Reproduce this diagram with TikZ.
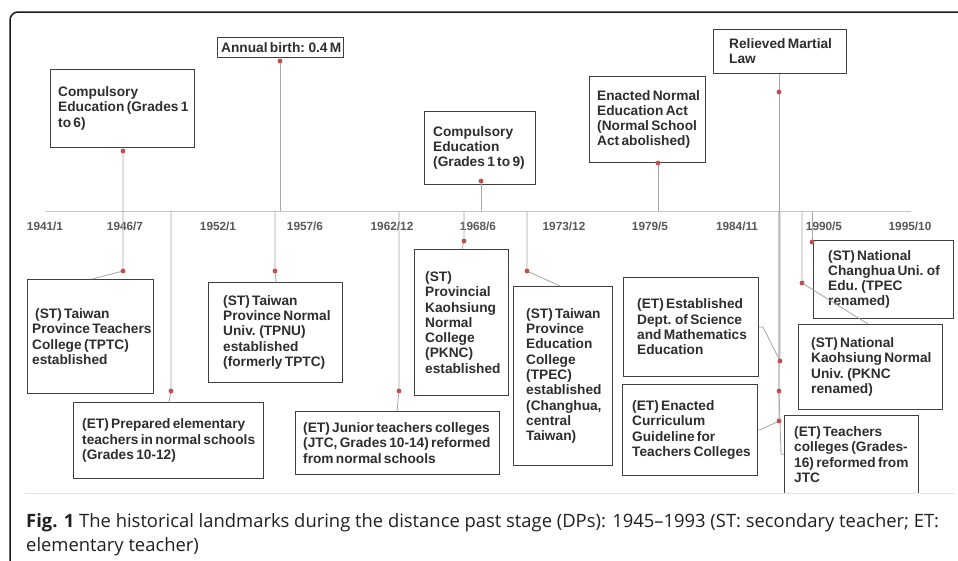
\documentclass[tikz,border=0pt]{standalone}
\usepackage{fontspec}
\setmainfont{Liberation Sans}
\newfontfamily\capfont{Open Sans}
\usetikzlibrary{calc}
\definecolor{boxline}{HTML}{404040}
\definecolor{txtc}{HTML}{2E2E2E}
\definecolor{connc}{HTML}{A6A6A6}
\definecolor{axisc}{HTML}{C8C8C8}
\definecolor{dotred}{HTML}{C0504D}
\definecolor{tickc}{HTML}{595959}
\definecolor{capc}{HTML}{231F20}
\definecolor{sepc}{HTML}{E3E3E3}
\newcommand{\bxfont}{\fontsize{13.7}{15.3}\selectfont\bfseries\spaceskip=0.17em plus 0.05em\relax}
\newcommand{\tkfont}{\fontsize{11.8}{13}\selectfont\bfseries}
\newcommand{\tlbox}[7]{%
  \node[evbox, minimum width={#4-#2}, minimum height={#5-#3}] (#1) at (#2,#3) {};
  \node[evtext] (#1t) at ($(#1.west)+(#6,0)$) {#7};
}
\newcommand{\tdot}[1]{\fill[dotred] (#1) circle (2.4);}
\begin{document}
\begin{tikzpicture}[x=1pt,y=-1pt,
  evbox/.style={draw=boxline, line width=0.9pt, inner sep=0pt, anchor=north west},
  evtext/.style={anchor=west, inner sep=0pt, align=left, text=txtc, font=\bxfont},
  conn/.style={draw=connc, line width=0.8pt},
  ticklab/.style={text=tickc, font=\tkfont, inner sep=0pt},
  caption/.style={anchor=base west, inner sep=0pt, text=capc, font=\capfont\fontsize{18.4}{22}\selectfont}]
\useasboundingbox (0,0) rectangle (958,560);
\fill[white] (0,0) rectangle (958,560);
% frame
\draw[line width=1.5pt, draw=black!90, rounded corners=8] (10,570) -- (10,12) -- (970,12);
% axis
\coordinate (axL) at (45,211);
\coordinate (axR) at (911,211);
\draw[draw=axisc, line width=1pt] (axL) -- (axR);
% tick labels
\node[ticklab] (t1) at (45,226) {1941/1};
\node[ticklab] (t2) at (125,226) {1946/7};
\node[ticklab] (t3) at (218,226) {1952/1};
\node[ticklab] (t4) at (305,226) {1957/6};
\node[ticklab] (t5) at (392,226) {1962/12};
\node[ticklab] (t6) at (478,226) {1968/6};
\node[ticklab] (t7) at (564,226) {1973/12};
\node[ticklab] (t8) at (650,226) {1979/5};
\node[ticklab] (t9) at (737,226) {1984/11};
\node[ticklab] (t10) at (824,226) {1990/5};
\node[ticklab] (t11) at (910,226) {1995/10};
% boxes
\tlbox{b1}{50}{69}{194}{147}{8}{Compulsory\\Education (Grades 1\\to 6)}
\tlbox{b2}{217}{37}{343}{57}{4}{Annual birth: 0.4 M}
\tlbox{b3}{27}{279}{153}{393}{5}{\hspace{3pt}(ST) Taiwan\\Province Teachers\\College (TPTC)\\established}
\tlbox{b4}{208}{282}{342}{382}{15}{(ST) Taiwan\\Province Normal\\Univ. (TPNU)\\established\\(formerly TPTC)}
\tlbox{b5}{73}{402}{263}{478}{9}{(ET) Prepared elementary\\teachers in normal schools\\(Grades 10-12)}
\tlbox{b6}{295}{411}{499}{474}{8}{(ET) Junior teachers colleges\\(JTC, Grades 10-14) reformed\\from normal schools}
\tlbox{b7}{424}{111}{535}{184}{9}{Compulsory\\Education\\(Grades 1 to 9)}
\tlbox{b8}{414}{249}{508}{395}{11}{(ST)\\Provincial\\Kaohsiung\\Normal\\College\\(PKNC)\\established}
\tlbox{b9}{513}{286}{612}{465}{13}{(ST) Taiwan\\Province\\Education\\College\\(TPEC)\\established\\(Changhua,\\central\\Taiwan)}
\tlbox{b10}{589}{76}{705}{162}{8}{Enacted Normal\\Education Act\\(Normal School\\Act abolished)}
\tlbox{b11}{713}{29}{846}{73}{16}{Relieved Martial\\Law}
\tlbox{b12}{813}{240}{953}{318}{15}{(ST) National\\Changhua Uni. of\\Edu. (TPEC\\renamed)}
\tlbox{b13}{798}{324}{942}{409}{13}{(ST) National\\Kaohsiung Normal\\Univ. (PKNC\\renamed)}
\tlbox{b14}{623}{277}{758}{376}{14}{(ET) Established\\Dept. of Science\\and Mathematics\\Education}
\tlbox{b15}{622}{384}{757}{475}{10}{(ET) Enacted\\Curriculum\\Guideline for\\Teachers Colleges}
\tlbox{b16}{784}{415}{918}{493}{10}{(ET) Teachers\\colleges (Grades-\\16) reformed from\\JTC}
% dot / bend coordinates
\coordinate (d1a) at (123,151); \coordinate (d1b) at (123,271);
\coordinate (d2) at (280,61);
\coordinate (d4) at (275,271);
\coordinate (d5) at (171,391);
\coordinate (d6) at (399,391);
\coordinate (d7) at (481,181);
\coordinate (d8) at (464,241);
\coordinate (d9) at (527,271);
\coordinate (d10) at (658,163);
\coordinate (d11) at (779,92);
\coordinate (d14) at (780,361); \coordinate (k14) at (763,327);
\coordinate (d16) at (779,391); \coordinate (k16) at (781,454);
\coordinate (d15) at (779,421); \coordinate (k15) at (760,430);
\coordinate (d12) at (812,242);
\coordinate (d13) at (802,283);
% connectors
\draw[conn] (d1a) -- (d1b) -- ($(b3.north west)+(65,0)$);
\draw[conn] (d2) -- (d2 |- axL);
\draw[conn] (d4 |- axL) -- (d4) -- ($(b4.north west)+(68,0)$);
\draw[conn] (d5 |- axL) -- (d5) -- ($(b5.north west)+(96,0)$);
\draw[conn] (d6 |- axL) -- (d6) -- ($(b6.north west)+(102,0)$);
\draw[conn] (d7) -- (d7 |- axL);
\draw[conn] (d8 |- axL) -- (d8) -- ($(b8.north west)+(48,0)$);
\draw[conn] (d9 |- axL) -- (d9) -- ($(b9.north west)+(47,0)$);
\draw[conn] (d10) -- (d10 |- axL);
\draw[conn] (b11.south -| d11) -- (d11) -- (d11 |- axL);
\draw[conn] (d14 |- axL) -- (d14) -- (k14) -- (b14.east);
\draw[conn] (d16 |- axL) -- (d16) -- (k16) -- (b16.west);
\draw[conn] (d15 |- axL) -- (d15) -- (k15) -- (b15.east);
\draw[conn] (d12 |- axL) -- (d12);
\draw[conn] (d13 |- axL) -- (d13) -- ($(b13.north west)+(70,0)$);
% dots
\tdot{d1a}\tdot{d1b}\tdot{d2}\tdot{d4}\tdot{d5}\tdot{d6}\tdot{d7}\tdot{d8}
\tdot{d9}\tdot{d10}\tdot{d11}\tdot{d14}\tdot{d16}\tdot{d15}\tdot{d12}\tdot{d13}
% caption
\coordinate (sepL) at (25,493); \coordinate (sepR) at (955,493);
\draw[draw=sepc, line width=1pt] (sepL) -- (sepR);
\node[caption] (cap1) at (26,527) {\textbf{Fig. 1} The historical landmarks during the distance past stage (DPs): 1945–1993 (ST: secondary teacher; ET:};
\node[caption] (cap2) at (26,551) {elementary teacher)};
\end{tikzpicture}
\end{document}
